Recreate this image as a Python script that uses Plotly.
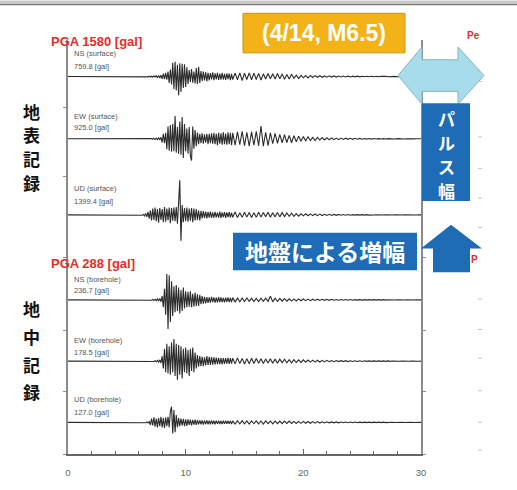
import plotly.graph_objects as go

# ---------------- data ----------------
T_SEC = [0.0, 5.5,
         6.0, 6.1, 6.2, 6.3, 6.4, 6.5, 6.6, 6.7, 6.8, 6.9,
         7.0, 7.1, 7.2, 7.3, 7.4, 7.5, 7.6, 7.7, 7.8, 7.9,
         8.0, 8.1, 8.2, 8.3, 8.4, 8.5, 8.6, 8.7, 8.8, 8.9,
         9.0, 9.1, 9.2, 9.3, 9.4, 9.5, 9.6, 9.7, 9.8, 9.9,
         10.0, 10.1, 10.2, 10.3, 10.4, 10.5, 10.6, 10.7, 10.8, 10.9,
         11.0, 11.1, 11.2, 11.3, 11.4, 11.5, 11.6, 11.7, 11.8, 11.9,
         12.0, 12.1, 12.2, 12.3, 12.4, 12.5, 12.6, 12.7, 12.8, 12.9,
         13.0, 13.1, 13.2, 13.3, 13.4, 13.5, 13.6, 13.7, 13.8, 13.9,
         14.0, 14.2, 14.4, 14.6, 14.8, 15.0, 15.2, 15.4, 15.6, 15.8,
         16.0, 16.2, 16.4, 16.6, 16.8, 17.0, 17.2, 17.4, 17.6, 17.8,
         18.0, 18.2, 18.4, 18.6, 18.8, 19.0, 19.2, 19.4, 19.6, 19.8,
         20.0, 20.2, 20.4, 20.6, 20.8, 21.0, 21.2, 21.4, 21.6, 21.8,
         22.0, 22.2, 22.4, 22.6, 22.8, 23.0, 23.2, 23.4, 23.6, 23.8,
         24.0, 24.2, 24.4, 24.6, 24.8, 25.0, 25.2, 25.4, 25.6, 25.8,
         26.0, 26.2, 26.4, 26.6, 26.8, 27.0, 27.2, 27.4, 27.6, 27.8,
         28.0, 28.2, 28.4, 28.6, 28.8, 29.0, 29.2, 29.4, 29.6, 29.8,
         30.0]

NS_SURFACE = [0, 0,
    0, 5, -8, 10, -6, 12, -15, 10, -12, 18,
    -20, 15, -25, 30, -20, 35, -45, 40, -60, 55,
    -90, 120, -100, 150, -130, 200, -260, 280, -320, 560,
    -500, 600, -560, 480, -760, 540, -620, 520, -460, 500,
    -420, 380, -300, 260, -220, 300, -250, 200, -280, 340,
    -300, 400, -260, 220, -180, 200, -160, 180, -200, 150,
    -160, 140, -120, 170, -150, 130, -110, 150, -140, 120,
    -130, 150, -120, 110, -140, 130, -100, 120, -150, 110,
    -120, 140, -130, 150, -160, 140, -120, 150, -130, 140,
    -120, 130, -140, 110, -100, 120, -90, 110, -100, 120,
    -90, 100, -110, 80, -100, 90, -70, 60, -80, 50,
    -50, 40, -55, 45, -35, 40, -30, 35, -30, 25,
    -25, 30, -20, 25, -20, 22, -18, 20, -15, 18,
    -15, 18, -12, 15, -14, 12, -10, 12, -10, 10,
    -8, 10, -8, 9, -7, 8, -6, 8, -6, 7,
    -6, 6, -5, 6, -5, 5, -4, 5, -4, 4,
    0]

EW_SURFACE = [0, 0,
    0, 0, 0, 0, 0, 0, 0, 5, -8, 10,
    -10, 15, -20, 25, -30, 20, -35, 40, -50, 60,
    -150, 200, -180, 240, -420, 500, -480, 560, -520, 600,
    -500, 925, -560, 480, -600, 700, -640, 880, -780, 600,
    -500, 420, -600, 480, -700, -880, 500, -400, 360, -300,
    250, -220, 200, -180, 220, -200, 180, -160, 200, -220,
    200, -180, 220, -200, 240, -220, 200, -260, 240, -200,
    220, -240, 260, -220, 200, -240, 260, -220, 240, -260,
    240, -260, 280, -240, 300, -280, 260, -300, 280, -260,
    300, -280, 520, -300, 260, -280, 240, -200, 220, -180,
    180, -160, 170, -150, 140, -160, 130, -120, 110, -100,
    90, -80, 80, -70, 60, -70, 55, -50, 50, -45,
    40, -40, 35, -35, 30, -32, 28, -26, 25, -22,
    20, -20, 18, -18, 16, -15, 14, -14, 12, -12,
    10, -10, 9, -9, 8, -8, 7, -7, 6, -6,
    6, -5, 5, -5, 4, -4, 4, -4, 3, -3,
    0]

UD_SURFACE = [0, 0,
    0, 0, 10, -15, 20, -40, 60, -80, 120, -150,
    180, -220, 260, -200, 300, -260, 240, -320, 280, -200,
    240, -300, 320, -280, 260, -220, 300, -340, 280, -240,
    300, -260, 320, -360, 500, 1399.4, -1050, 400, -300, 280,
    -260, 300, -280, 260, -240, 280, -300, 260, -220, 240,
    -200, 180, -220, 160, -140, 150, -120, 130, -140, 120,
    -110, 130, -120, 100, -110, 120, -100, 90, -110, 130,
    -120, 100, -90, 110, -120, 100, -90, 110, -100, 90,
    -100, 120, -110, 90, -100, 110, -90, 100, -110, 90,
    -100, 110, -90, 100, -80, 110, -100, 90, -80, 100,
    -80, 90, -70, 80, -60, 70, -60, 50, -55, 45,
    -40, 45, -35, 40, -30, 35, -30, 30, -25, 25,
    -22, 24, -20, 20, -18, 18, -16, 15, -14, 14,
    -12, 12, -10, 12, -10, 10, -9, 9, -8, 8,
    -7, 7, -6, 6, -6, 6, -5, 5, -5, 5,
    -4, 4, -4, 4, -3, 3, -3, 3, -2, 2,
    0]

NS_BOREHOLE = [0, 0,
    0, 0, 0, 0, 0, 0, 0, 0, 0, 0,
    2, -3, 4, -5, 4, -6, 8, -10, 12, -15,
    30, -60, 90, -120, 210, -236.7, 200, -180, 150, -130,
    110, -100, 120, -90, 100, -110, 80, -90, 100, -70,
    70, -60, 65, -55, 70, -60, 50, -55, 60, -50,
    45, -50, 40, -35, 30, -30, 25, -28, 22, -25,
    20, -22, 24, -18, 20, -22, 18, -20, 22, -18,
    20, -18, 16, -20, 18, -16, 20, -18, 16, -18,
    18, -16, 14, -16, 15, -14, 16, -12, 14, -13,
    12, -14, 13, -12, 14, -12, 30, -16, 14, -12,
    12, -10, 11, -10, 9, -10, 8, -9, 8, -7,
    7, -6, 6, -6, 5, -5, 5, -5, 4, -4,
    4, -4, 4, -3, 3, -3, 3, -3, 3, -3,
    3, -3, 2, -2, 2, -2, 2, -2, 2, -2,
    2, -2, 2, -2, 2, -2, 1, -1, 1, -1,
    1, -1, 1, -1, 1, -1, 1, -1, 1, -1,
    0]

EW_BOREHOLE = [0, 0,
    0, 0, 0, 0, 0, 0, 0, 0, 0, 0,
    0, 0, 2, -3, 4, -5, 6, -8, 10, -15,
    40, -60, 100, -90, 140, -100, 120, -110, 150, -90,
    178.5, -120, 140, -150, 130, -110, 120, -140, 100, -90,
    110, -100, 90, -120, 100, -80, 110, -90, 70, -60,
    50, -45, 40, -40, 35, -40, 30, -35, 40, -30,
    35, -30, 32, -28, 30, -26, 28, -24, 26, -25,
    24, -26, 25, -22, 24, -20, 26, -22, 24, -20,
    24, -22, 26, -20, 22, -24, 20, -22, 24, -20,
    22, -18, 20, -20, 18, -16, 20, -18, 16, -18,
    16, -14, 15, -14, 12, -13, 12, -11, 10, -10,
    10, -9, 9, -8, 8, -8, 7, -7, 6, -6,
    6, -5, 5, -5, 5, -4, 4, -4, 4, -4,
    3, -3, 3, -3, 3, -3, 3, -2, 2, -2,
    2, -2, 2, -2, 2, -2, 2, -2, 1, -1,
    1, -1, 1, -1, 1, -1, 1, -1, 1, -1,
    0]

UD_BOREHOLE = [0, 0,
    0, 0, 0, 0, 0, 2, -3, 4, -5, 6,
    -20, 30, -25, 40, -35, 30, -40, 35, -30, 45,
    -40, 35, -45, 40, -30, 45, -40, 90, 127.0, -90,
    100, -80, 60, -40, 35, -30, 30, -25, 28, -30,
    25, -28, 24, -20, 22, -25, 20, -18, 22, -20,
    18, -16, 17, -15, 16, -18, 15, -14, 16, -15,
    14, -15, 16, -14, 13, -15, 14, -12, 14, -13,
    12, -14, 13, -12, 14, -12, 13, -11, 12, -13,
    12, -13, 14, -12, 13, -12, 12, -14, 12, -11,
    12, -12, 11, -13, 12, -10, 11, -12, 10, -11,
    10, -11, 10, -9, 10, -9, 8, -9, 8, -8,
    8, -7, 7, -7, 6, -6, 6, -5, 5, -5,
    5, -4, 4, -4, 4, -4, 3, -3, 3, -3,
    3, -3, 3, -3, 2, -2, 2, -2, 2, -2,
    2, -2, 2, -2, 2, -2, 1, -1, 1, -1,
    1, -1, 1, -1, 1, -1, 1, -1, 1, -1,
    0]

TRACE_NAMES = ["NS (surface)", "EW (surface)", "UD (surface)",
               "NS (borehole)", "EW (borehole)", "UD (borehole)"]
TRACE_PEAKS = ["759.8 [gal]", "925.0 [gal]", "1399.4 [gal]",
               "236.7 [gal]", "178.5 [gal]", "127.0 [gal]"]
SERIES = [NS_SURFACE, EW_SURFACE, UD_SURFACE, NS_BOREHOLE, EW_BOREHOLE, UD_BOREHOLE]
X_TICKS = [0, 10, 20, 30]

for s in SERIES:
    assert len(s) == len(T_SEC), (len(s), len(T_SEC))

# ---------------- layout helpers ----------------
W, H = 517, 490
L, R, T, B = 68, 421, 40, 459


def fx(p):
    return (p - L) / (R - L)


def fy(p):
    return (B - p) / (B - T)


# row layout: (top px, bottom px, baseline px, gal per px)
ROWS = [(40, 108, 77, 40), (108, 178, 140, 40), (178, 260, 217, 40),
        (260, 334, 303, 8), (334, 396, 365, 8), (396, 459, 427, 8)]
LABEL_Y = [(54, 67), (117, 129), (190, 203), (282, 294), (344, 356), (404, 417)]

fig = go.Figure()
layout = dict(
    width=W, height=H, margin=dict(l=L, r=W - R, t=T, b=H - B),
    paper_bgcolor="white", plot_bgcolor="white", showlegend=False,
    font=dict(family="Liberation Sans, Noto Sans CJK JP", color="#333"),
)

for i, (top, bot, base, sc) in enumerate(ROWS):
    yname = "y" if i == 0 else f"y{i+1}"
    fig.add_trace(go.Scatter(x=T_SEC, y=SERIES[i], mode="lines", xaxis="x", yaxis=yname,
                             line=dict(color="#2b2b2b", width=1.1), hoverinfo="skip"))
    lo = -(bot - base) * sc
    hi = (base - top) * sc
    key = "yaxis" if i == 0 else f"yaxis{i+1}"
    layout[key] = dict(domain=[fy(bot), fy(top)], range=[lo, hi], anchor="x",
                       showline=True, linecolor="#8a8a8a", linewidth=1.5, mirror="ticks",
                       ticks="outside", tickvals=[lo], ticklen=3, tickcolor="#8a8a8a",
                       showticklabels=False, showgrid=False, zeroline=False)

layout["xaxis"] = dict(domain=[0, 1], range=[0, 30], anchor="y6",
                       showline=True, linecolor="#666", linewidth=2,
                       ticks="inside", tickvals=X_TICKS, ticklen=5, tickcolor="#666",
                       minor=dict(dtick=2, tick0=0, ticks="inside", ticklen=3, tickcolor="#666"),
                       showgrid=False, zeroline=False, ticklabelstandoff=9,
                       tickfont=dict(size=9.5, color="#666"))

ann = []


def text(x, y, s, size, color, xanchor="left", family=None):
    d = dict(x=fx(x), y=fy(y), xref="paper", yref="paper", text=s, showarrow=False,
             xanchor=xanchor, yanchor="middle", borderpad=0, font=dict(size=size, color=color))
    if family:
        d["font"]["family"] = family
    ann.append(d)


text(50, 42, "<b>PGA 1580 [gal]</b>", 13, "#E0302A")
text(50, 266, "<b>PGA 288 [gal]</b>", 13, "#E0302A")
for (y1, y2), nm, pk in zip(LABEL_Y, TRACE_NAMES, TRACE_PEAKS):
    text(73, y1, nm, 7.5, "#555")
    text(73, y2, pk, 7.5, "#555")

JP = "Noto Sans CJK JP"
for ch, y in zip("地表記録", [112, 136, 160, 184]):
    text(31, y, "<b>%s</b>" % ch, 17, "#111", "center", JP)
for ch, y in zip("地中記録", [312, 340, 368, 396]):
    text(31, y, "<b>%s</b>" % ch, 17, "#111", "center", JP)
for ch, y in zip("パルス幅", [119, 144, 168, 192]):
    text(446, y, "<b>%s</b>" % ch, 17, "white", "center", JP)
text(325, 254, "<b>地盤による増幅</b>", 23, "white", "center", JP)
text(324, 33, "<b>(4/14, M6.5)</b>", 23, "white", "center", "Liberation Sans")
text(466, 35, "<b>Pe</b>", 10, "#E0302A")
text(470, 262, "<b>P</b>", 10, "#E0302A")

layout["annotations"] = ann


def path(pts):
    return "M " + " L ".join("%.4f,%.4f" % (fx(a), fy(b)) for a, b in pts) + " Z"


shapes = []
shapes.append(dict(type="rect", xref="paper", yref="paper", x0=fx(0), x1=fx(W), y0=fy(3), y1=fy(0),
                   fillcolor="#c9c9c9", line=dict(width=0), layer="above"))
shapes.append(dict(type="line", xref="paper", yref="paper", x0=fx(0), x1=fx(W), y0=fy(4), y1=fy(4),
                   line=dict(color="#777", width=1.5)))
shapes.append(dict(type="rect", xref="paper", yref="paper", x0=fx(243), x1=fx(405), y0=fy(53), y1=fy(13),
                   fillcolor="#F3B318", line=dict(color="#C99410", width=1)))
shapes.append(dict(type="path", xref="paper", yref="paper",
                   path=path([(398, 76), (422, 47), (422, 60), (458, 60), (458, 47), (484, 76),
                              (458, 105), (458, 92), (422, 92), (422, 105)]),
                   fillcolor="#A7DCEA", line=dict(color="#8AB2C6", width=1)))
shapes.append(dict(type="rect", xref="paper", yref="paper", x0=fx(422), x1=fx(470), y0=fy(203), y1=fy(104),
                   fillcolor="#1E6BB6", line=dict(width=0)))
shapes.append(dict(type="rect", xref="paper", yref="paper", x0=fx(233), x1=fx(417), y0=fy(273), y1=fy(235),
                   fillcolor="#1E6BB6", line=dict(width=0)))
shapes.append(dict(type="path", xref="paper", yref="paper",
                   path=path([(451, 227), (482, 251), (470, 251), (470, 275), (433, 275), (433, 251), (421, 251)]),
                   fillcolor="#1E6BB6", line=dict(width=0)))
for yy in [82, 138, 170, 200, 230, 302, 333, 362, 395, 427, 455]:
    shapes.append(dict(type="line", xref="paper", yref="paper", x0=fx(478), x1=fx(482), y0=fy(yy), y1=fy(yy),
                       line=dict(color="#c8c8c8", width=1)))
layout["shapes"] = shapes

fig.update_layout(**layout)
fig.write_html("out.html", config={"displayModeBar": False},
               post_script="document.body.style.margin='0';document.body.style.overflow='hidden';")
